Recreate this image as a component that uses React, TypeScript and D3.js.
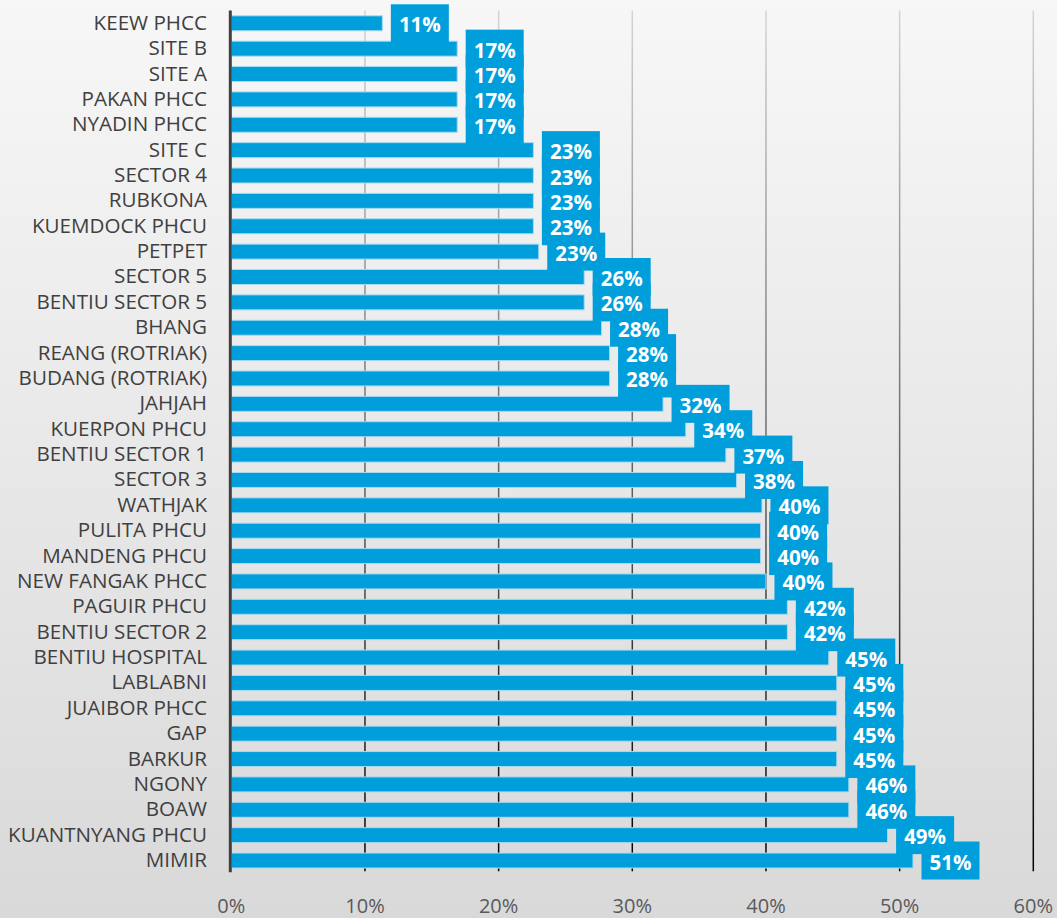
import * as d3 from 'd3';

// facility names, top to bottom
const categories = [
  'KEEW PHCC', 'SITE B', 'SITE A', 'PAKAN PHCC', 'NYADIN PHCC', 'SITE C', 'SECTOR 4',
  'RUBKONA', 'KUEMDOCK PHCU', 'PETPET', 'SECTOR 5', 'BENTIU SECTOR 5', 'BHANG',
  'REANG (ROTRIAK)', 'BUDANG (ROTRIAK)', 'JAHJAH', 'KUERPON PHCU', 'BENTIU SECTOR 1',
  'SECTOR 3', 'WATHJAK', 'PULITA PHCU', 'MANDENG PHCU', 'NEW FANGAK PHCC', 'PAGUIR PHCU',
  'BENTIU SECTOR 2', 'BENTIU HOSPITAL', 'LABLABNI', 'JUAIBOR PHCC', 'GAP', 'BARKUR',
  'NGONY', 'BOAW', 'KUANTNYANG PHCU', 'MIMIR',
];

// percentages
const values = [
  11.3, 16.9, 16.9, 16.9, 16.9, 22.6, 22.6,
  22.6, 22.6, 23.0, 26.4, 26.4, 27.7,
  28.3, 28.3, 32.3, 34.0, 37.0,
  37.8, 39.7, 39.6, 39.6, 40.0, 41.6,
  41.6, 44.7, 45.3, 45.3, 45.3, 45.3,
  46.2, 46.2, 49.1, 51.0,
];

const xTicks = [0, 10, 20, 30, 40, 50, 60];

const W = 1057;
const H = 918;
const BLUE = '#009edb';
const FONT = "'Open Sans', sans-serif";

export default function App() {
  // plot area
  const left = 231.3;
  const right = 1033.3;
  const top = 10.6;
  const bottom = 873.2;

  const x = d3.scaleLinear().domain([0, 60]).range([left, right]);
  const y = d3.scaleBand<string>().domain(categories).range([top, bottom]).paddingInner(0.41).paddingOuter(0.205);
  const mid = (c: string) => (y(c) ?? 0) + y.bandwidth() / 2;

  const boxW = 58;
  const boxH = 38;

  return (
    <svg width={W} height={H} style={{ position: 'absolute', left: 0, top: 0 }}>
      <defs>
        <linearGradient id="bg" x1="0" y1="0" x2="0" y2="1">
          <stop offset="0%" stopColor="#f7f7f7" />
          <stop offset="100%" stopColor="#d9d9d9" />
        </linearGradient>
        <linearGradient id="grid" gradientUnits="userSpaceOnUse" x1="0" y1={top} x2="0" y2={bottom}>
          <stop offset="0%" stopColor="#d4d4d4" />
          <stop offset="100%" stopColor="#000000" />
        </linearGradient>
      </defs>
      <rect x={0} y={0} width={W} height={H} fill="url(#bg)" />

      {/* gridlines */}
      {xTicks.slice(1).map((t) => (
        <line key={t} x1={x(t)} x2={x(t)} y1={top} y2={bottom - 2} stroke="url(#grid)" strokeWidth={1.5} />
      ))}

      {/* bars */}
      {categories.map((c, i) => (
        <rect
          key={c}
          x={x(0)}
          y={y(c)}
          width={x(values[i]) - x(0)}
          height={y.bandwidth()}
          fill={BLUE}
          stroke="#a6daf2"
          strokeWidth={1}
        />
      ))}

      {/* axis line */}
      <line x1={x(0) - 1} x2={x(0) - 1} y1={top} y2={bottom - 1} stroke="#404040" strokeWidth={3} />

      {/* data label boxes first, then their texts so none get hidden */}
      {categories.map((c, i) => (
        <rect key={c} x={x(values[i]) + 8.5} y={mid(c) - boxH / 2} width={boxW} height={boxH} fill={BLUE} />
      ))}
      {categories.map((c, i) => (
        <text
          key={c}
          x={x(values[i]) + 8.5 + boxW / 2}
          y={mid(c) + 1}
          textAnchor="middle"
          dominantBaseline="central"
          fill="#ffffff"
          fontFamily={FONT}
          fontWeight={700}
          fontSize={20.5}
        >
          {Math.round(values[i])}%
        </text>
      ))}

      {/* category labels */}
      {categories.map((c) => (
        <text
          key={c}
          x={207}
          y={mid(c) - 1.5}
          textAnchor="end"
          dominantBaseline="central"
          fill="#404040"
          fontFamily={FONT}
          fontSize={20.6}
        >
          {c}
        </text>
      ))}

      {/* x tick labels */}
      {xTicks.map((t) => (
        <text
          key={t}
          x={x(t)}
          y={905}
          textAnchor="middle"
          dominantBaseline="central"
          fill="#595959"
          fontFamily={FONT}
          fontSize={20}
        >
          {t}%
        </text>
      ))}
    </svg>
  );
}
